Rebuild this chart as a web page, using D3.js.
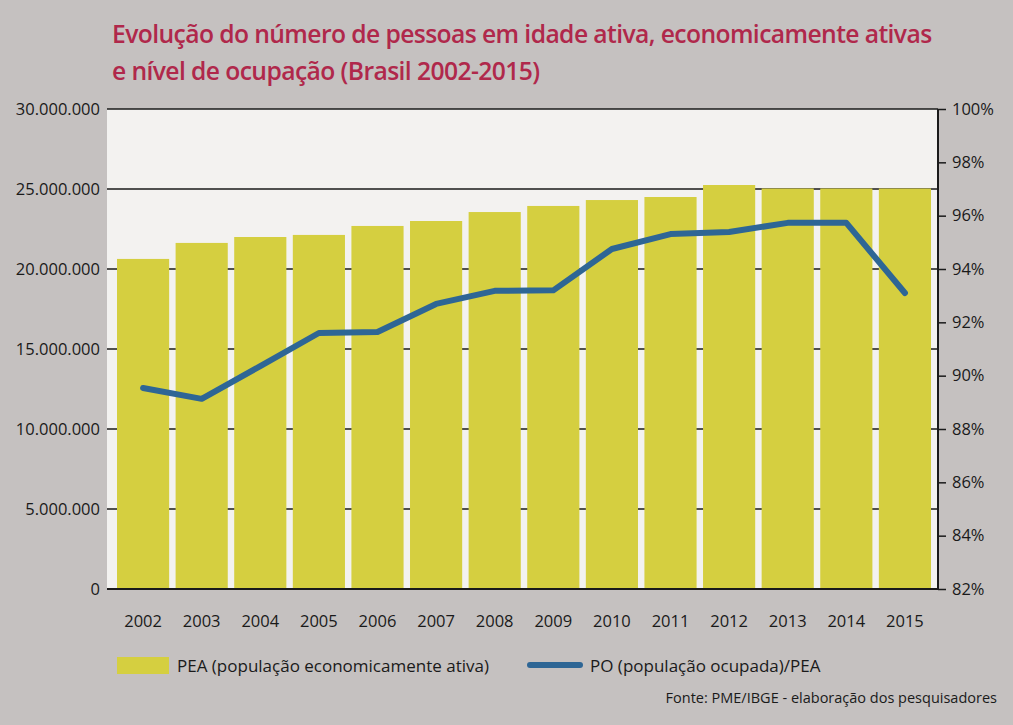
<!DOCTYPE html>
<html><head><meta charset="utf-8">
<script src="https://cdn.jsdelivr.net/npm/d3@7"></script>
<style>
html,body{margin:0;padding:0;background:#c5c1c0;}
svg{display:block;}
text{font-family:"Open Sans","Noto Sans",sans-serif;}
</style></head>
<body>
<svg id="chart" width="1013" height="725"></svg>
<script>
const years = ["2002","2003","2004","2005","2006","2007","2008","2009","2010","2011","2012","2013","2014","2015"];
const pea = [20630000,21630000,22000000,22130000,22690000,23000000,23560000,23940000,24310000,24500000,25250000,25030000,25030000,25030000];
const poRatio = [89.54,89.13,90.36,91.6,91.64,92.69,93.18,93.2,94.75,95.31,95.39,95.73,95.73,93.1];
const leftTicks = [0,5000000,10000000,15000000,20000000,25000000,30000000];
const rightTicks = [82,84,86,88,90,92,94,96,98,100];
const titleLines = ["Evolução do número de pessoas em idade ativa, economicamente ativas","e nível de ocupação (Brasil 2002-2015)"];
const legendLabels = ["PEA (população economicamente ativa)","PO (população ocupada)/PEA"];
const sourceText = "Fonte: PME/IBGE - elaboração dos pesquisadores";

const svg = d3.select("#chart");
const L = 107, R = 938, T = 109, B = 589;
const barColor = "#d5cf40", lineColor = "#2e6695", ink = "#1a1a1a";

const x = d3.scaleBand().domain(years).range([117, 931]).paddingInner(0.11).paddingOuter(0);
const yL = d3.scaleLinear().domain([0, 30000000]).range([B, T]);
const yR = d3.scaleLinear().domain([82, 100]).range([B, T]);

// title (fit first line to ~820px)
const titles = svg.selectAll("text.title").data(titleLines).join("text")
  .attr("class","title")
  .attr("x", 112).attr("y", (d,i)=> 43 + i*37)
  .attr("font-size", 26).attr("font-weight", 600)
  .attr("letter-spacing", -0.6)
  .attr("fill", "#b0284b")
  .text(d=>d);
const w0 = titles.nodes()[0].getComputedTextLength();
if (w0 > 822) {
  const fs = 26 * 822 / w0;
  titles.attr("font-size", fs);
}

// plot background
svg.append("rect").attr("x", L).attr("y", T).attr("width", R-L).attr("height", B-T).attr("fill", "#f3f2f0");

// gridlines
svg.append("g").selectAll("line").data(leftTicks.slice(1)).join("line")
  .attr("x1", L).attr("x2", R).attr("y1", d=>yL(d)).attr("y2", d=>yL(d))
  .attr("stroke", ink).attr("stroke-width", 1.5);

// left tick labels
svg.append("g").selectAll("text").data(leftTicks).join("text")
  .attr("x", 100).attr("y", d=>yL(d)+6)
  .attr("text-anchor","end").attr("font-size", 16.5).attr("fill", ink)
  .text(d=> d===0 ? "0" : d3.format(",")(d).replace(/,/g,"."));

// bars
svg.append("g").selectAll("rect").data(years).join("rect")
  .attr("x", d=>x(d)).attr("width", x.bandwidth())
  .attr("y", (d,i)=>yL(pea[i])).attr("height", (d,i)=>B - yL(pea[i]))
  .attr("fill", barColor);

// bottom axis line
svg.append("line").attr("x1", L).attr("x2", R+1).attr("y1", B).attr("y2", B).attr("stroke", ink).attr("stroke-width", 2);

// right axis
const rAxis = svg.append("g").attr("transform", `translate(${R},0)`)
  .call(d3.axisRight(yR).tickValues(rightTicks).tickSize(8).tickPadding(6).tickFormat(d=>d+"%"));
rAxis.select(".domain").attr("stroke", ink).attr("stroke-width", 2).attr("d", `M0,${T}V${B}`);
rAxis.selectAll(".tick line").attr("stroke", ink).attr("stroke-width", 1.5);
rAxis.selectAll(".tick text").attr("font-size", 16.5).attr("fill", ink).attr("font-family", "'Open Sans','Noto Sans',sans-serif");

// x labels
svg.append("g").selectAll("text").data(years).join("text")
  .attr("x", d=>x(d)+x.bandwidth()/2).attr("y", 627)
  .attr("text-anchor","middle").attr("font-size", 16.5).attr("fill", ink)
  .text(d=>d);

// line
const line = d3.line().x((d,i)=>x(years[i])+x.bandwidth()/2).y(d=>yR(d));
svg.append("path").datum(poRatio).attr("d", line)
  .attr("fill","none").attr("stroke", lineColor).attr("stroke-width", 6)
  .attr("stroke-linecap","round").attr("stroke-linejoin","round");

// legend
svg.append("rect").attr("x", 117).attr("y", 657).attr("width", 52).attr("height", 17).attr("fill", barColor);
svg.append("text").attr("x", 177).attr("y", 672).attr("font-size", 17).attr("fill", ink).text(legendLabels[0]);
svg.append("line").attr("x1", 530).attr("x2", 580).attr("y1", 665).attr("y2", 665)
  .attr("stroke", lineColor).attr("stroke-width", 6).attr("stroke-linecap","round");
svg.append("text").attr("x", 590).attr("y", 672).attr("font-size", 17).attr("fill", ink).text(legendLabels[1]);

// source
svg.append("text").attr("x", 997).attr("y", 703).attr("text-anchor","end").attr("font-size", 14.5).attr("fill", ink).text(sourceText);
</script>
</body></html>
